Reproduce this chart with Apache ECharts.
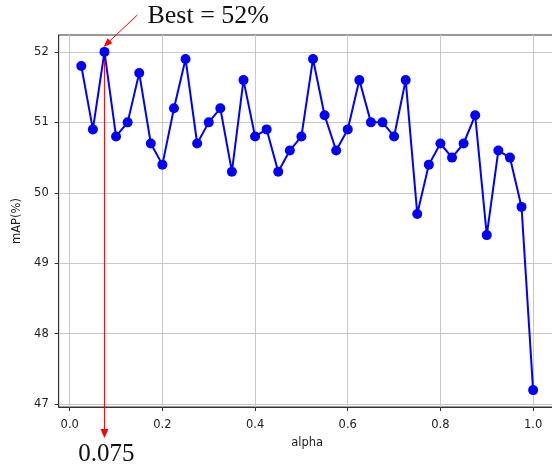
<!DOCTYPE html>
<html>
<head>
<meta charset="utf-8">
<script src="https://cdn.jsdelivr.net/npm/echarts@6/dist/echarts.min.js"></script>
<style>html,body{margin:0;padding:0;background:#fff}#c{width:552px;height:467px}</style>
</head>
<body>
<div id="c"></div>
<script>
const alpha = [0.025,0.05,0.075,0.1,0.125,0.15,0.175,0.2,0.225,0.25,0.275,0.3,0.325,0.35,0.375,0.4,0.425,0.45,0.475,0.5,0.525,0.55,0.575,0.6,0.625,0.65,0.675,0.7,0.725,0.75,0.775,0.8,0.825,0.85,0.875,0.9,0.925,0.95,0.975,1.0];
const mAP = [51.8,50.9,52.0,50.8,51.0,51.7,50.7,50.4,51.2,51.9,50.7,51.0,51.2,50.3,51.6,50.8,50.9,50.3,50.6,50.8,51.9,51.1,50.6,50.9,51.6,51.0,51.0,50.8,51.6,49.7,50.4,50.7,50.5,50.7,51.1,49.4,50.6,50.5,49.8,47.2];
const xTicks = [0,0.2,0.4,0.6,0.8,1.0];
const yTicks = [47,48,49,50,51,52];
const best = {x: 0.075, y: 52.0, text: 'Best = 52%', label: '0.075'};

const chart = echarts.init(document.getElementById('c'), null, {renderer:'canvas'});
const font = 'DejaVu Sans';
chart.setOption({
  animation: false,
  backgroundColor: '#fff',
  grid: {left: 58.7, width: 497, top: 35, bottom: 60, outerBoundsMode: 'none', containLabel: false, show: true, borderColor: '#333', borderWidth: 1, backgroundColor: 'transparent'},
  xAxis: {
    type: 'value', min: -0.02375, max: 1.04875,
    name: 'alpha', nameLocation: 'middle', nameGap: 30,
    nameTextStyle: {fontFamily: font, fontSize: 11.5, color: '#222'},
    axisLine: {show: true, onZero: false, lineStyle: {color: '#333', width: 1}},
    axisTick: {show: true, length: 4, customValues: xTicks, lineStyle: {color: '#333'}},
    axisLabel: {customValues: xTicks, margin: 12, fontFamily: font, fontSize: 11.5, color: '#222', formatter: v => v.toFixed(1)},
    splitLine: {show: true, lineStyle: {color: '#c8c8c8', width: 1}}
  },
  yAxis: {
    type: 'value', min: 46.96, max: 52.24,
    name: 'mAP(%)', nameLocation: 'middle', nameGap: 29,
    nameTextStyle: {fontFamily: font, fontSize: 11.5, color: '#222'},
    axisLine: {show: true, onZero: false, lineStyle: {color: '#333', width: 1}},
    axisTick: {show: true, length: 4, customValues: yTicks, lineStyle: {color: '#333'}},
    axisLabel: {customValues: yTicks, margin: 10, fontFamily: font, fontSize: 11.5, color: '#222', formatter: v => String(Math.round(v))},
    splitLine: {show: true, lineStyle: {color: '#c8c8c8', width: 1}}
  },
  series: [{
    type: 'line',
    data: alpha.map((a, i) => [a, mAP[i]]),
    symbol: 'circle', symbolSize: 10,
    lineStyle: {color: '#0000ff', width: 2},
    itemStyle: {color: '#0000ff'},
    clip: false, z: 3
  }]
});

const p = chart.convertToPixel({seriesIndex: 0}, [best.x, best.y]);
const bottomPx = chart.convertToPixel({seriesIndex: 0}, [best.x, 46.96])[1];
const px = p[0], py = p[1];
// diagonal arrow
const S = [px + 33, py - 37], T = [px - 1, py - 5];
const dx = T[0] - S[0], dy = T[1] - S[1], L = Math.hypot(dx, dy);
const ux = dx / L, uy = dy / L, hl = 9, hw = 3.5;
const B = [T[0] - ux * hl, T[1] - uy * hl];
const vTip = bottomPx + 31, vBase = vTip - 9;
chart.setOption({
  graphic: [
    {type: 'line', z: 1, shape: {x1: px, y1: py, x2: px, y2: vBase + 1}, style: {stroke: '#ff0000', lineWidth: 1}},
    {type: 'polygon', z: 1, shape: {points: [[px, vTip], [px - 4, vBase], [px + 4, vBase]]}, style: {fill: '#ff0000'}},
    {type: 'line', z: 10, shape: {x1: S[0], y1: S[1], x2: B[0], y2: B[1]}, style: {stroke: '#ff0000', lineWidth: 1}},
    {type: 'polygon', z: 10, shape: {points: [T, [B[0] - uy * hw, B[1] + ux * hw], [B[0] + uy * hw, B[1] - ux * hw]]}, style: {fill: '#ff0000'}},
    {type: 'text', z: 10, x: px + 43, y: py - 23, style: {text: best.text, font: '26px "Liberation Serif"', fill: '#111', verticalAlign: 'bottom'}},
    {type: 'text', z: 10, x: px + 2, y: bottomPx + 60, style: {text: best.label, font: '25px "Liberation Serif"', fill: '#111', align: 'center', verticalAlign: 'bottom'}}
  ]
});
</script>
</body>
</html>
